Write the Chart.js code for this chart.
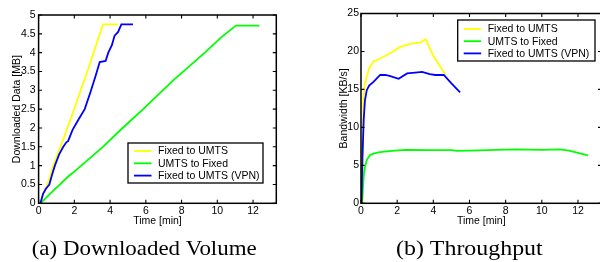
<!DOCTYPE html>
<html>
<head>
<meta charset="utf-8">
<script src="https://cdn.jsdelivr.net/npm/chart.js@4.4.0/dist/chart.umd.min.js"></script>
<style>
  html, body { margin: 0; padding: 0; background: #fff; }
  #wrap { position: relative; width: 600px; height: 262px; overflow: hidden; }
  #volChart { position: absolute; left: 0; top: 0; }
  #bwChart { position: absolute; left: 300px; top: 0; }
</style>
</head>
<body>
<div id="wrap">
  <canvas id="volChart" width="300" height="262"></canvas>
  <canvas id="bwChart" width="310" height="262"></canvas>
</div>
<script>
// series names
const seriesLabels = ['Fixed to UMTS', 'UMTS to Fixed', 'Fixed to UMTS (VPN)'];
const seriesColors = ['#ffff00', '#00ff00', '#0000ff'];

// (a) downloaded volume [MB] over time [min]
const volFixedT = [0.1, 0.3, 0.45, 0.6, 0.82, 1.5, 2.1, 2.8, 3.6, 4.45];
const volFixedMB = [0, 0.3, 0.45, 0.65, 1.0, 1.85, 2.65, 3.6, 4.75, 4.75];
const volUmtsT = [0.1, 0.9, 1.75, 1.95, 3.6, 4.7, 5.85, 7.5, 9.3, 10.2, 11.04, 12.35];
const volUmtsMB = [0, 0.37, 0.75, 0.82, 1.5, 2.0, 2.5, 3.25, 4.0, 4.4, 4.72, 4.72];
const volVpnT = [0.1, 0.25, 0.4, 0.6, 0.75, 0.91, 1.15, 1.38, 1.55, 1.65, 1.9, 2.2, 2.58, 2.9, 3.2, 3.42, 3.75, 3.9, 4.1, 4.25, 4.35, 4.45, 4.63, 5.28];
const volVpnMB = [0, 0.25, 0.38, 0.5, 0.75, 1.0, 1.3, 1.5, 1.62, 1.65, 1.95, 2.2, 2.5, 2.95, 3.4, 3.75, 3.78, 4.0, 4.2, 4.45, 4.5, 4.55, 4.75, 4.75];

// (b) throughput [KB/s] over time [min]
const bwFixedT = [0.08, 0.1, 0.13, 0.2, 0.32, 0.45, 0.69, 1.24, 1.7, 2.17, 2.73, 3.29, 3.57, 4.03, 4.68];
const bwFixedKB = [0, 8, 13.6, 15.5, 16.7, 17.8, 18.66, 19.3, 19.9, 20.6, 21.0, 21.2, 21.6, 19.3, 16.9];
const bwUmtsT = [0.05, 0.11, 0.16, 0.22, 0.32, 0.5, 0.7, 0.96, 1.4, 1.89, 2.45, 3.9, 5.0, 5.3, 6.0, 8.5, 10.0, 11.0, 11.5, 12.55];
const bwUmtsKB = [0, 2.2, 3.8, 4.8, 5.7, 6.35, 6.55, 6.7, 6.85, 6.95, 7.05, 7.0, 7.0, 6.9, 6.95, 7.1, 7.05, 7.1, 6.95, 6.3];
const bwVpnT = [0.03, 0.08, 0.15, 0.22, 0.32, 0.45, 0.69, 1.06, 1.35, 1.62, 2.08, 2.55, 3.0, 3.38, 3.8, 4.12, 4.58, 5.0, 5.48];
const bwVpnKB = [0, 6, 11, 13.6, 14.9, 15.5, 16.0, 16.9, 16.9, 16.75, 16.4, 17.1, 17.2, 17.3, 17.0, 16.9, 16.9, 15.8, 14.6];

// axis ranges
const timeMax = 13.3;
const timeStep = 2;
const volMax = 5, volStep = 0.5;
const bwMax = 25, bwStep = 5;

const sans = { family: '"Liberation Sans", Arial, Helvetica, sans-serif', size: 10.5 };

// plain labels like matlab: 0, 0.5, 1 ...
const plainTick = v => String(Math.round(v * 100) / 100);

// matlab-like box with inward ticks on all sides
const framePlugin = {
  id: 'frame',
  afterDatasetsDraw(chart) {
    const { ctx, chartArea: a, scales: { x, y } } = chart;
    const len = 3.5;
    ctx.save();
    ctx.strokeStyle = '#000';
    ctx.lineWidth = 1.1;
    ctx.beginPath();
    x.ticks.forEach(t => {
      const px = x.getPixelForValue(t.value);
      ctx.moveTo(px, a.bottom); ctx.lineTo(px, a.bottom - len);
      ctx.moveTo(px, a.top); ctx.lineTo(px, a.top + len);
    });
    y.ticks.forEach(t => {
      const py = y.getPixelForValue(t.value);
      ctx.moveTo(a.left, py); ctx.lineTo(a.left + len, py);
      ctx.moveTo(a.right, py); ctx.lineTo(a.right - len, py);
    });
    ctx.stroke();
    ctx.lineWidth = 1.5;
    ctx.strokeRect(a.left, a.top, a.right - a.left, a.bottom - a.top);
    ctx.restore();
  }
};

// boxed legend placed inside the plot
const boxLegendPlugin = {
  id: 'boxLegend',
  afterDraw(chart, args, o) {
    const { ctx } = chart;
    ctx.save();
    ctx.fillStyle = '#fff';
    ctx.fillRect(o.left, o.top, o.width, o.height);
    ctx.strokeStyle = '#000';
    ctx.lineWidth = 1.3;
    ctx.strokeRect(o.left, o.top, o.width, o.height);
    ctx.font = `${sans.size}px ${sans.family}`;
    ctx.textBaseline = 'middle';
    chart.data.datasets.forEach((ds, i) => {
      const ry = o.top + o.firstRow + i * o.rowGap;
      ctx.strokeStyle = ds.borderColor;
      ctx.lineWidth = 1.8;
      ctx.beginPath();
      ctx.moveTo(o.left + 6, ry);
      ctx.lineTo(o.left + 23.5, ry);
      ctx.stroke();
      ctx.fillStyle = '#000';
      ctx.fillText(ds.label, o.left + 30, ry + 0.5);
    });
    ctx.restore();
  }
};

// serif sub-caption under each plot
const captionPlugin = {
  id: 'caption',
  afterDraw(chart, args, o) {
    const { ctx } = chart;
    ctx.save();
    ctx.font = '21.5px "Liberation Serif", "Times New Roman", serif';
    ctx.fillStyle = '#000';
    ctx.textBaseline = 'alphabetic';
    const w = ctx.measureText(o.text).width;
    ctx.translate(o.x0, o.y);
    ctx.scale((o.x1 - o.x0) / w, 1);
    ctx.fillText(o.text, 0, 0);
    ctx.restore();
  }
};

function toPoints(ts, vs) {
  return ts.map((t, i) => ({ x: t, y: vs[i] }));
}

function buildChart(id, seriesData, cfg) {
  return new Chart(document.getElementById(id), {
    type: 'line',
    data: {
      datasets: seriesData.map((d, i) => ({
        label: seriesLabels[i],
        data: d,
        borderColor: seriesColors[i],
        borderWidth: 1.8,
        pointRadius: 0,
        tension: 0,
        fill: false,
        order: 3 - i
      }))
    },
    options: {
      responsive: false,
      animation: false,
      devicePixelRatio: 1,
      layout: { padding: cfg.padding },
      plugins: {
        legend: { display: false },
        tooltip: { enabled: false },
        boxLegend: cfg.legend,
        caption: cfg.caption
      },
      scales: {
        x: {
          type: 'linear',
          min: 0,
          max: timeMax,
          grid: { display: false, drawTicks: false },
          border: { display: false },
          ticks: { stepSize: timeStep, includeBounds: false, color: '#000', font: sans, padding: 2, maxRotation: 0, autoSkip: false, callback: plainTick },
          title: { display: true, text: 'Time [min]', color: '#000', font: sans, padding: 0 },
          afterFit: s => { s.height = 24; }
        },
        y: {
          type: 'linear',
          min: 0,
          max: cfg.yMax,
          grid: { display: false, drawTicks: false },
          border: { display: false },
          ticks: { stepSize: cfg.yStep, includeBounds: false, color: '#000', font: sans, padding: cfg.tickPad, autoSkip: false, callback: plainTick },
          title: { display: true, text: cfg.yTitle, color: '#000', font: sans, padding: { top: cfg.titleOffset, bottom: 0 } },
          afterFit: s => { s.width = cfg.yWidth; }
        }
      }
    },
    plugins: [framePlugin, boxLegendPlugin, captionPlugin]
  });
}

buildChart('volChart', [
  toPoints(volFixedT, volFixedMB),
  toPoints(volUmtsT, volUmtsMB),
  toPoints(volVpnT, volVpnMB)
], {
  padding: { left: 0, top: 15, right: 23.7, bottom: 34.7 },
  yMax: volMax, yStep: volStep,
  yTitle: 'Downloaded Data [MB]',
  yWidth: 38.6, tickPad: 3, titleOffset: 11.2,
  legend: { left: 128, top: 143, width: 135, height: 40, firstRow: 8, rowGap: 12.3 },
  caption: { text: '(a) Downloaded Volume', x0: 31.7, x1: 256.7, y: 255 }
});

buildChart('bwChart', [
  toPoints(bwFixedT, bwFixedKB),
  toPoints(bwUmtsT, bwUmtsKB),
  toPoints(bwVpnT, bwVpnKB)
], {
  padding: { left: 0, top: 13.5, right: 8.5, bottom: 34.7 },
  yMax: bwMax, yStep: bwStep,
  yTitle: 'Bandwidth [KB/s]',
  yWidth: 61, tickPad: 2, titleOffset: 37.7,
  legend: { left: 157.7, top: 20, width: 137.3, height: 41, firstRow: 9, rowGap: 12.2 },
  caption: { text: '(b) Throughput', x0: 96, x1: 242.7, y: 255 }
});
</script>
</body>
</html>
